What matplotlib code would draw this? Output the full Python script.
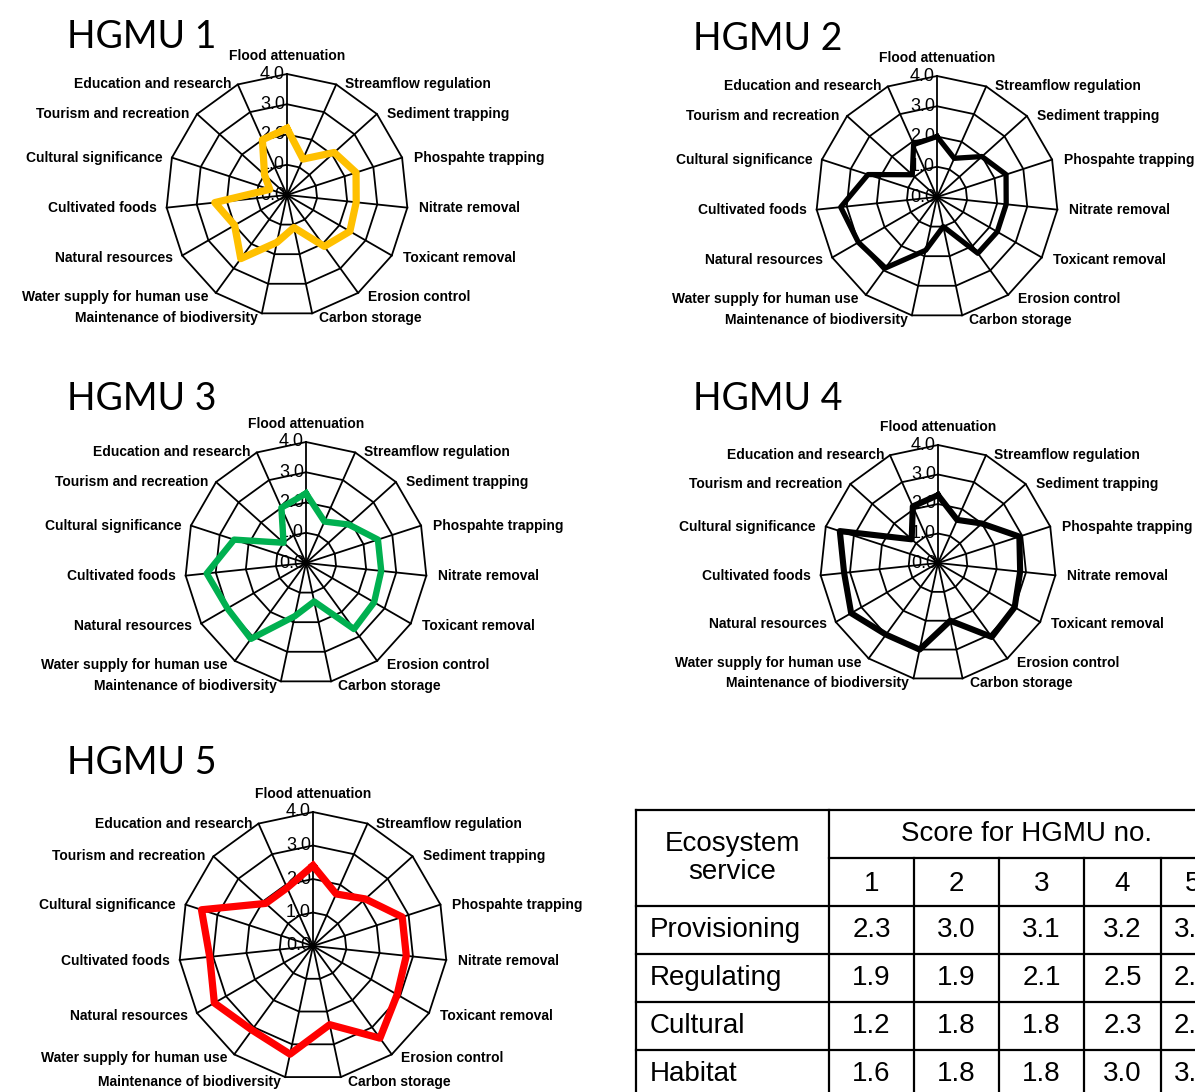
import matplotlib
matplotlib.use('Agg')
import matplotlib.pyplot as plt
import numpy as np

W, H = 1195, 1092

services = ['Flood attenuation', 'Streamflow regulation', 'Sediment trapping',
            'Phospahte trapping', 'Nitrate removal', 'Toxicant removal',
            'Erosion control', 'Carbon storage', 'Maintenance of biodiversity',
            'Water supply for human use', 'Natural resources', 'Cultivated foods',
            'Cultural significance', 'Tourism and recreation', 'Education and research']

hgmu1 = [2.2, 1.3, 2.1, 2.4, 2.3, 2.4, 2.1, 1.1, 1.6, 2.6, 2.0, 2.4, 0.6, 1.0, 2.0]
hgmu2 = [2.0, 1.4, 2.0, 2.4, 2.3, 2.3, 2.3, 1.0, 1.8, 2.9, 3.0, 3.2, 2.4, 1.1, 1.9]
hgmu3 = [2.3, 1.5, 1.9, 2.5, 2.5, 2.6, 2.7, 1.3, 1.8, 3.1, 3.0, 3.3, 2.5, 1.0, 2.0]
hgmu4 = [2.3, 1.6, 2.0, 2.9, 2.8, 3.0, 3.1, 2.0, 3.0, 3.0, 3.4, 3.2, 3.5, 1.2, 2.1]
hgmu5 = [2.4, 1.7, 2.1, 2.8, 2.8, 2.9, 3.4, 2.4, 3.3, 3.1, 3.4, 3.1, 3.5, 1.9, 1.9]

ring_ticks = [0.0, 1.0, 2.0, 3.0, 4.0]

# summary table
group_names = ['Provisioning', 'Regulating', 'Cultural', 'Habitat']
hgmu_numbers = ['1', '2', '3', '4', '5']
score_provisioning = [2.3, 3.0, 3.1, 3.2, 3.2]
score_regulating = [1.9, 1.9, 2.1, 2.5, 2.6]
score_cultural = [1.2, 1.8, 1.8, 2.3, 2.4]
score_habitat = [1.6, 1.8, 1.8, 3.0, 3.3]

LABEL_FONT = dict(family='Liberation Sans', fontsize=10, fontweight='bold')

fig = plt.figure(figsize=(W / 100, H / 100), dpi=100)
fig.patch.set_facecolor('white')

# full-figure axes in pixel units for titles and the table
page = fig.add_axes([0, 0, 1, 1])
page.set_xlim(0, W)
page.set_ylim(H, 0)
page.axis('off')


def radar(cx, cy, rad, values, color, lw, title, title_pos):
    ax = fig.add_axes([(cx - rad) / W, 1 - (cy + rad) / H, 2 * rad / W, 2 * rad / H],
                      projection='polar')
    ax.set_theta_zero_location('N')
    ax.set_theta_direction(-1)
    ax.set_ylim(0, ring_ticks[-1])
    ax.axis('off')

    n = len(services)
    theta = np.linspace(0, 2 * np.pi, n, endpoint=False)
    closed = np.append(theta, theta[0])

    for r in ring_ticks[1:]:
        ax.plot(closed, [r] * (n + 1), color='black', lw=1.3, clip_on=False, zorder=1)
    for t in theta:
        ax.plot([t, t], [0, ring_ticks[-1]], color='black', lw=1.3, clip_on=False, zorder=1)

    for r in ring_ticks:
        ax.annotate(f'{r:.1f}', xy=(0, r), xytext=(-2, 0), textcoords='offset pixels',
                    ha='right', va='center', family='Liberation Sans', fontsize=13,
                    zorder=2, annotation_clip=False)

    ax.plot(closed, list(values) + [values[0]], color=color, lw=lw, clip_on=False, zorder=3)

    for t, name in zip(theta, services):
        s, c = np.sin(t), np.cos(t)
        if abs(s) < 1e-6:
            ax.annotate(name, xy=(t, ring_ticks[-1]), xytext=(0, 11), textcoords='offset pixels',
                        ha='center', va='bottom', annotation_clip=False, **LABEL_FONT)
            continue
        if s > 0:
            dx, ha = 6 + 6 * s, 'left'
        else:
            dx, ha = -(3 + 7 * abs(s)), 'right'
        dy = min(0, 5 * c)
        ax.annotate(name, xy=(t, ring_ticks[-1]), xytext=(dx, dy), textcoords='offset pixels',
                    ha=ha, va='center', annotation_clip=False, **LABEL_FONT)

    page.text(title_pos[0], title_pos[1], title, family='Lato', fontsize=27,
              ha='left', va='baseline')


radar(287, 195, 121, hgmu1, '#FFC000', 5.2, 'HGMU 1', (67, 48))
radar(937, 197, 121, hgmu2, 'black', 3.8, 'HGMU 2', (693, 50))
radar(306, 563, 121, hgmu3, '#00B050', 4.6, 'HGMU 3', (67, 410))
radar(938, 563, 118, hgmu4, 'black', 4.4, 'HGMU 4', (693, 410))
radar(313, 946, 134, hgmu5, '#FF0000', 5.2, 'HGMU 5', (67, 774))

# table grid
col_x = [636, 829, 914, 999, 1084, 1161, 1225]
row_y = [810, 858, 906, 954, 1002, 1050, 1098]
tlw = 1.6
page.plot([col_x[0], col_x[-1]], [row_y[0], row_y[0]], color='black', lw=tlw)
page.plot([col_x[1], col_x[-1]], [row_y[1], row_y[1]], color='black', lw=tlw)
for y in row_y[2:]:
    page.plot([col_x[0], col_x[-1]], [y, y], color='black', lw=tlw)
page.plot([col_x[0], col_x[0]], [row_y[0], row_y[-1]], color='black', lw=tlw)
page.plot([col_x[1], col_x[1]], [row_y[0], row_y[-1]], color='black', lw=tlw)
for x in col_x[2:]:
    page.plot([x, x], [row_y[1], row_y[-1]], color='black', lw=tlw)

TABLE_FONT = dict(family='Liberation Sans', fontsize=20)
page.text((col_x[0] + col_x[1]) / 2, (row_y[0] + row_y[2]) / 2, 'Ecosystem\nservice',
          ha='center', va='center', linespacing=1.1, **TABLE_FONT)
page.text((col_x[1] + col_x[-1]) / 2, (row_y[0] + row_y[1]) / 2, 'Score for HGMU no.',
          ha='center', va='center', **TABLE_FONT)
for i, num in enumerate(hgmu_numbers):
    page.text((col_x[i + 1] + col_x[i + 2]) / 2, (row_y[1] + row_y[2]) / 2 + 2, num,
              ha='center', va='center', **TABLE_FONT)

scores = [score_provisioning, score_regulating, score_cultural, score_habitat]
for j, (name, row) in enumerate(zip(group_names, scores)):
    yc = (row_y[j + 2] + row_y[j + 3]) / 2
    page.text(col_x[0] + 14, yc, name, ha='left', va='center', **TABLE_FONT)
    for i, v in enumerate(row):
        page.text((col_x[i + 1] + col_x[i + 2]) / 2, yc, f'{v:.1f}',
                  ha='center', va='center', **TABLE_FONT)

fig.savefig('out.png', dpi=100)
